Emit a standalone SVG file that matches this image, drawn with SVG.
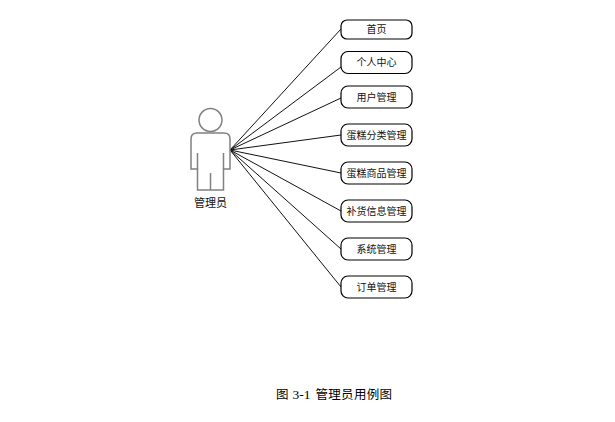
<svg xmlns="http://www.w3.org/2000/svg" width="615" height="422" viewBox="0 0 615 422">
<style>
.n{fill:#fff;stroke:#000;stroke-width:1.2}
.t{font-family:"Noto Sans CJK SC","Liberation Sans",sans-serif;font-size:10px;fill:#111;text-anchor:middle}
.c line{stroke:#111;stroke-width:1}
.a{fill:#fff;stroke:#808080;stroke-width:1.5}
.f{font-family:"Noto Sans CJK SC",sans-serif;font-size:12.500px;fill:#000}
</style>
<rect width="615" height="422" fill="#fff"/>
<g id="connectors" class="c">
<line x1="230" y1="150" x2="341" y2="29"/>
<line x1="230" y1="150" x2="341" y2="67"/>
<line x1="230" y1="150" x2="341" y2="98"/>
<line x1="230" y1="150" x2="341" y2="135"/>
<line x1="230" y1="150" x2="341" y2="173"/>
<line x1="230" y1="150" x2="341" y2="211"/>
<line x1="230" y1="150" x2="341" y2="249"/>
<line x1="230" y1="150" x2="341" y2="287"/>
</g>
<g id="actor">
<circle class="a" cx="210.500" cy="120" r="11.500"/>
<path class="a" d="M197 133H224Q230 133 230 139V169H223.500V190H197.500V169H191V139Q191 133 197 133Z"/>
<path class="a" d="M197.500 153V169M223.500 153V169M210.500 173V190" fill="none"/>
<text class="t" x="210.500" y="207" style="font-size:11px">管理员</text>
</g>
<g id="n1"><rect class="n" x="341" y="20" width="71" height="19" rx="6"/><text class="t" x="376.500" y="33">首页</text></g>
<g id="n2"><rect class="n" x="341" y="51.500" width="71" height="22" rx="7"/><text class="t" x="376.500" y="66">个人中心</text></g>
<g id="n3"><rect class="n" x="341" y="86" width="71" height="22" rx="7"/><text class="t" x="376.500" y="101">用户管理</text></g>
<g id="n4"><rect class="n" x="341" y="124" width="71" height="22" rx="7"/><text class="t" x="376.500" y="139">蛋糕分类管理</text></g>
<g id="n5"><rect class="n" x="341" y="162" width="71" height="22" rx="7"/><text class="t" x="376.500" y="177">蛋糕商品管理</text></g>
<g id="n6"><rect class="n" x="341" y="200" width="71" height="22" rx="7"/><text class="t" x="376.500" y="215">补货信息管理</text></g>
<g id="n7"><rect class="n" x="341" y="238" width="71" height="22" rx="7"/><text class="t" x="376.500" y="253">系统管理</text></g>
<g id="n8"><rect class="n" x="341" y="276" width="71" height="22" rx="7"/><text class="t" x="376.500" y="291">订单管理</text></g>
<g id="caption">
<text class="f" x="276" y="399">图</text>
<text class="f" x="292.500" y="399" style="font-family:'Liberation Serif',serif;font-size:13.500px">3-1</text>
<text class="f" x="315.500" y="399" style="letter-spacing:.3px">管理员用例图</text>
</g>
</svg>
